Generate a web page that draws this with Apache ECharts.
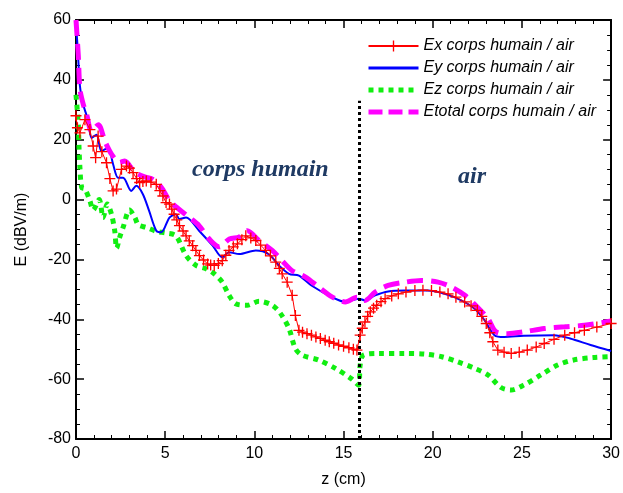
<!DOCTYPE html>
<html>
<head>
<meta charset="utf-8">
<script src="https://cdn.jsdelivr.net/npm/echarts@6/dist/echarts.min.js"></script>
<style>
  html, body { margin: 0; padding: 0; background: #fff; }
  #chart { width: 623px; height: 493px; }
</style>
</head>
<body>
<div id="chart"></div>
<script>
// values: [z (cm), E (dBV/m)]
var exData = [
    [0, 28], [0.08, 24], [0.22, 22.3], [0.5, 26.7], [0.78, 23.4], [0.96, 17.9], [1.1, 14],
    [1.24, 21.2], [1.45, 16], [1.71, 12.3], [1.9, 7], [2.08, 2.9], [2.27, 3.5], [2.55, 10.1],
    [2.83, 11.2], [3.0, 10.5], [3.2, 9], [3.4, 7], [3.57, 5.7], [3.75, 6], [3.94, 6.2],
    [4.2, 5.8], [4.5, 5.1], [4.7, 3], [4.87, 1.2], [5.05, -1], [5.24, -1.5], [5.37, -3.2],
    [5.5, -4.9], [5.65, -6.8], [5.8, -8.7], [6.0, -10.5], [6.17, -12.1], [6.35, -13.8],
    [6.54, -15.4], [6.72, -17], [6.92, -18.7], [7.15, -20.2], [7.38, -21.5], [7.55, -21.9],
    [7.75, -22], [7.98, -21.4], [8.2, -20.4], [8.4, -18.6], [8.58, -17], [8.82, -15.8],
    [9.05, -14.8], [9.3, -13.4], [9.52, -12.1], [9.8, -12.8], [10.08, -13.7], [10.35, -15.2],
    [10.63, -17], [10.9, -18.8], [11.2, -20.9], [11.4, -23], [11.56, -24.8], [11.84, -27.6],
    [12.12, -32], [12.3, -38.7], [12.5, -43.7], [12.7, -44.3], [12.95, -44.8], [13.2, -45.3],
    [13.45, -45.9], [13.7, -46.4], [13.97, -47], [14.2, -47.5], [14.45, -48], [14.72, -48.6],
    [15.0, -49], [15.3, -49.5], [15.55, -50], [15.75, -50.3], [15.93, -45.3], [16.05, -43],
    [16.2, -40.9], [16.35, -39], [16.5, -37.5], [16.68, -36.3], [16.86, -35.3], [17.1, -34.1],
    [17.33, -33.1], [17.7, -32.2], [18.07, -31.5], [18.5, -30.9], [19.0, -30.4], [19.45, -30.3],
    [19.93, -30.4], [20.4, -30.9], [20.86, -31.5], [21.3, -32.6], [21.79, -34.2], [22.15, -35.5],
    [22.5, -37], [22.75, -39], [23.0, -41.4], [23.2, -44.5], [23.37, -47.5], [23.65, -50.3],
    [24.0, -51], [24.4, -51.4], [24.85, -51], [25.3, -50.3], [25.8, -49.3], [26.25, -48.1],
    [26.8, -46.7], [27.4, -45.3], [27.95, -44.5], [28.5, -43.7], [29.2, -42.6], [30, -41.4]
];
var eyData = [
    [0, 58.5], [0.1, 50], [0.22, 38], [0.41, 31.7], [0.69, 26.2], [0.87, 20.6], [1.15, 21.7],
    [1.43, 16.2], [1.8, 17.3], [2.08, 11.8], [2.36, 7.3], [2.64, 7.3], [3.1, 2.9], [3.38, 4.6],
    [3.75, 1.8], [4.1, -3.8], [4.5, -10.4], [4.78, -10.9], [5.24, -6], [5.6, -4.9], [5.8, -6.5],
    [6.17, -6], [6.9, -10.4], [7.66, -15.4], [8.2, -19.3], [8.58, -17.6], [9.15, -18.2],
    [10.08, -17], [10.8, -18.2], [11.38, -22], [11.94, -24.8], [12.5, -25.4], [13.2, -28.7],
    [14.35, -32.6], [15.1, -34.2], [15.84, -33.1], [16.2, -33.7], [16.77, -32], [17.5, -30.7],
    [18.44, -30.4], [19.7, -30.4], [20.67, -31.5], [21.6, -33.7], [22.35, -36.5], [22.9, -40.3],
    [23.46, -45.3], [24.0, -45.9], [25.1, -45.5], [26.8, -45.3], [27.7, -46.4], [28.85, -48.6],
    [30, -50.6]
];
var ezData = [
    [0, 35], [0.13, 25], [0.17, 17.3], [0.22, 10.7], [0.32, 4], [0.5, 3.5], [0.78, -0.4],
    [0.96, -3.5], [1.3, 0], [1.52, -6], [1.75, -1.5], [1.99, -4.9], [2.17, -10.4], [2.28, -16.2],
    [2.45, -12.6], [2.64, -9.3], [3.0, -3.5], [3.3, -6], [3.5, -8.5], [3.94, -9.3], [4.5, -10.6],
    [5.06, -11.2], [5.6, -12.1], [6.17, -18.7], [6.73, -22], [7.29, -23.1], [7.75, -24.8],
    [8.2, -27.6], [8.58, -32], [8.95, -34.8], [9.6, -35.3], [10.26, -34], [11.0, -35.3],
    [11.47, -38.1], [11.94, -43.1], [12.3, -49.8], [12.68, -52], [13.6, -53.6], [14.54, -56.4],
    [15.47, -60], [15.84, -62], [15.93, -55.3], [16.1, -52], [16.95, -51.4], [18.44, -51.4],
    [19.56, -51.6], [20.5, -52.5], [21.4, -54.2], [22.35, -56.4], [23.1, -58.6], [23.83, -62.8],
    [24.4, -63.6], [25.1, -62], [26.06, -58.6], [27.0, -55.3], [27.9, -53.6], [29.0, -52.8],
    [30, -52.5]
];
var etotalData = [
    [0, 60], [0.13, 48], [0.22, 37], [0.41, 31.7], [0.6, 28.4], [0.87, 22.8], [1.25, 25],
    [1.62, 19.5], [2.0, 15.1], [2.45, 12.4], [2.73, 12.9], [3.3, 9.1], [3.94, 7.4], [4.3, 6.8],
    [4.78, 4.1], [5.24, -0.4], [5.6, -2.4], [6.36, -6], [6.9, -8.7], [7.47, -13.2], [8.03, -15.8],
    [8.6, -13.2], [9.15, -12.5], [9.6, -10.4], [10.26, -13.7], [11.0, -17], [11.55, -20.4],
    [12.1, -23.7], [12.87, -25.9], [13.6, -29.2], [14.35, -32.5], [15.1, -34.2], [15.75, -32.6],
    [16.2, -33.7], [16.77, -30.9], [17.5, -28.7], [18.44, -27.6], [19.37, -27], [20.3, -27.6],
    [21.04, -29.2], [21.8, -32], [22.5, -35.9], [23.1, -39.8], [23.55, -44.2], [24.2, -44.8],
    [25.1, -44.2], [26.25, -43.1], [27.4, -42.5], [28.5, -42], [30, -40.6]
];
// boundary between the body and air
var boundaryZ = 15.9;
var boundaryTop = 33;

var seriesNames = ['Ex corps humain / air', 'Ey corps humain / air',
                   'Ez corps humain / air', 'Etotal corps humain / air'];

var plusSymbol = 'path://M4.4,0H5.6V4.4H10V5.6H5.6V10H4.4V5.6H0V4.4H4.4Z';
var font = '"Liberation Sans", Arial, sans-serif';
var noMarker = { opacity: 0 };

function mainAxis(extra) {
    var ax = {
        axisLine: { onZero: false, lineStyle: { color: '#000', width: 2 } },
        axisTick: { inside: true, length: 8, lineStyle: { color: '#000', width: 1.5 } },
        splitLine: { show: false },
        axisLabel: { color: '#000', fontSize: 16, fontFamily: font }
    };
    for (var k in extra) ax[k] = extra[k];
    return ax;
}

var chart = echarts.init(document.getElementById('chart'));
chart.setOption({
    animation: false,
    backgroundColor: '#fff',
    grid: { left: 76, right: 9, top: 20, bottom: 52 },
    legend: {
        data: [
            { name: seriesNames[0] },
            { name: seriesNames[1], itemStyle: noMarker,
              lineStyle: { color: '#0000ff', width: 3 } },
            { name: seriesNames[2], itemStyle: noMarker,
              lineStyle: { color: '#11ee11', width: 5, type: [5, 5] } },
            { name: seriesNames[3], itemStyle: noMarker,
              lineStyle: { color: '#ff00ff', width: 5, type: [14, 6] } }
        ],
        orient: 'vertical',
        left: 361,
        top: 33,
        itemWidth: 50,
        itemHeight: 14,
        itemGap: 6,
        textStyle: { fontSize: 16, lineHeight: 16, fontStyle: 'italic', fontFamily: font, color: '#000' }
    },
    xAxis: [
        mainAxis({
            type: 'value', min: 0, max: 30, interval: 5,
            minorTick: { show: true, splitNumber: 5, length: 4, lineStyle: { color: '#000', width: 1 } },
            name: 'z (cm)', nameLocation: 'middle', nameGap: 33,
            nameTextStyle: { fontSize: 16, fontFamily: font, color: '#000' },
            axisLabel: { color: '#000', fontSize: 16, fontFamily: font, margin: 7 }
        }),
        mainAxis({
            type: 'value', min: 0, max: 30, interval: 5, position: 'top',
            minorTick: { show: true, splitNumber: 5, length: 4, lineStyle: { color: '#000', width: 1 } },
            axisLabel: { show: false }
        })
    ],
    yAxis: [
        mainAxis({
            type: 'value', min: -80, max: 60, interval: 20,
            minorTick: { show: true, splitNumber: 4, length: 4, lineStyle: { color: '#000', width: 1 } },
            name: 'E (dBV/m)', nameLocation: 'middle', nameGap: 46, nameRotate: 90,
            nameTextStyle: { fontSize: 16, fontFamily: font, color: '#000' },
            axisLabel: { color: '#000', fontSize: 16, fontFamily: font, margin: 5 }
        }),
        mainAxis({
            type: 'value', min: -80, max: 60, interval: 20, position: 'right',
            minorTick: { show: true, splitNumber: 4, length: 4, lineStyle: { color: '#000', width: 1 } },
            axisLabel: { show: false }
        })
    ],
    series: [
        {
            name: seriesNames[0], type: 'line', data: exData, z: 6,
            symbol: plusSymbol, symbolSize: 11, showSymbol: true,
            itemStyle: { color: '#ff0000' },
            lineStyle: { color: '#ff0000', width: 1 }
        },
        {
            name: seriesNames[1], type: 'line', data: eyData, z: 3,
            symbol: 'none', smooth: 0.3,
            itemStyle: { color: '#0000ff' },
            lineStyle: { color: '#0000ff', width: 2 }
        },
        {
            name: seriesNames[2], type: 'line', data: ezData, z: 2,
            symbol: 'none', smooth: 0.3,
            itemStyle: { color: '#11ee11' },
            lineStyle: { color: '#11ee11', width: 5, type: [5, 5] },
            markLine: {
                silent: true, symbol: 'none', label: { show: false },
                lineStyle: { color: '#000', width: 3, type: [3, 3] },
                data: [[{ coord: [boundaryZ, -80] }, { coord: [boundaryZ, boundaryTop] }]]
            }
        },
        {
            name: seriesNames[3], type: 'line', data: etotalData, z: 4,
            symbol: 'none', smooth: 0.3,
            itemStyle: { color: '#ff00ff' },
            lineStyle: { color: '#ff00ff', width: 5, type: [16, 8] }
        }
    ],
    graphic: [
        {
            type: 'text', left: 192, top: 158,
            style: { text: 'corps humain', font: 'italic bold 24px "Liberation Serif", serif', fill: '#1f3a63' }
        },
        {
            type: 'text', left: 458, top: 165,
            style: { text: 'air', font: 'italic bold 24px "Liberation Serif", serif', fill: '#1f3a63' }
        }
    ]
});
</script>
</body>
</html>
